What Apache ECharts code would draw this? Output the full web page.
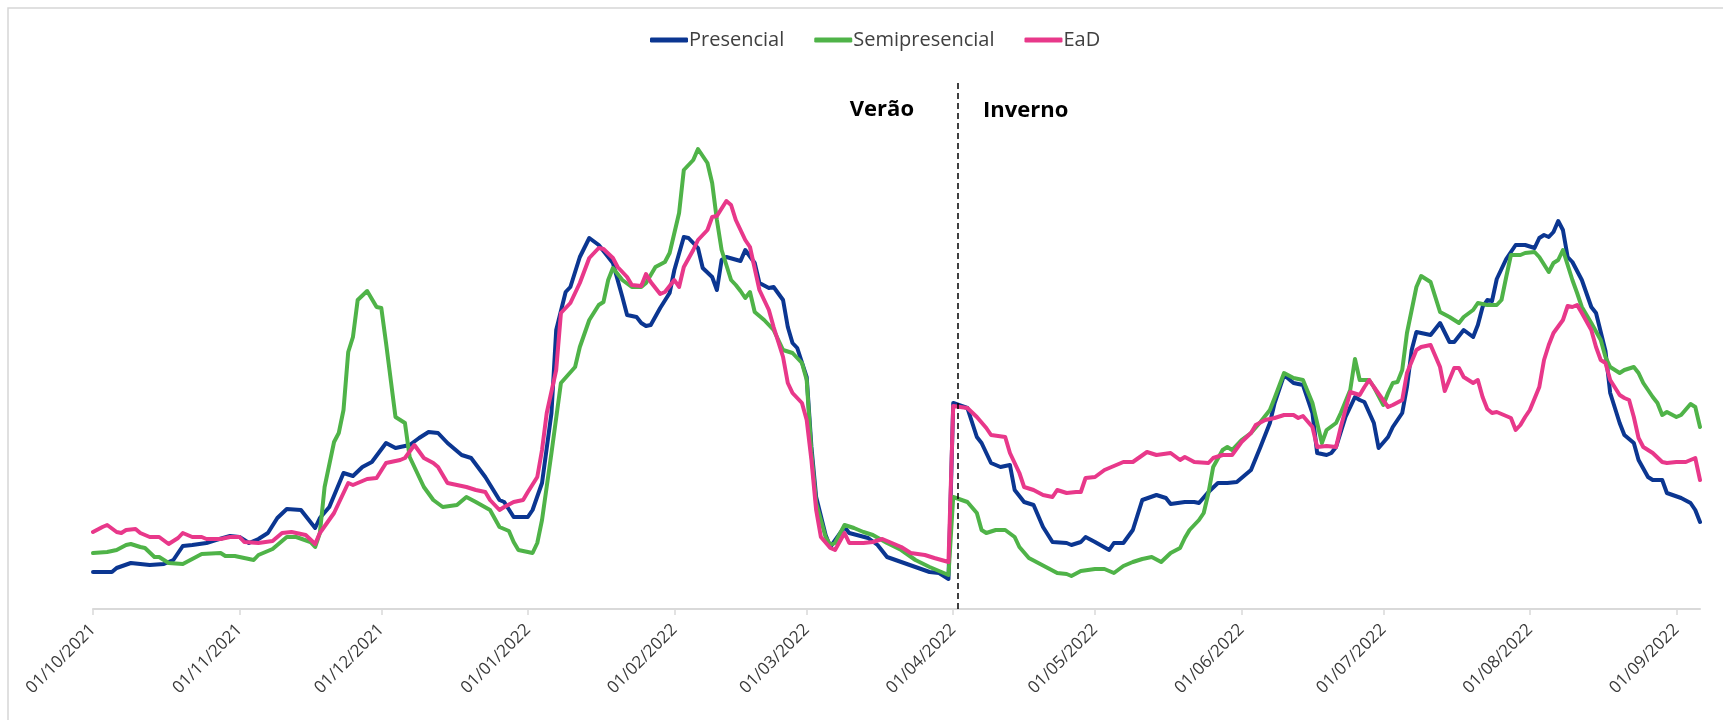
<!DOCTYPE html>
<html>
<head>
<meta charset="utf-8">
<script src="https://cdn.jsdelivr.net/npm/echarts@6/dist/echarts.min.js"></script>
<style>
    html, body { margin: 0; padding: 0; background: #ffffff; }
    #chart { width: 1723px; height: 720px; }
</style>
</head>
<body>
<div id="chart"></div>
<script>
// x = days since 01/10/2021, y = index level
var monthStarts = [0, 31, 61, 92, 123, 151, 182, 212, 243, 273, 304, 335];
var tickLabels = ['01/10/2021', '01/11/2021', '01/12/2021', '01/01/2022', '01/02/2022', '01/03/2022',
    '01/04/2022', '01/05/2022', '01/06/2022', '01/07/2022', '01/08/2022', '01/09/2022'];
var seriesNames = ['Presencial', 'Semipresencial', 'EaD'];
var seasonLabels = ['Verão', 'Inverno'];
var seasonChangeDay = 183;

var presencial = [[0,37],[4,37],[5,41],[8,46],[10,45],[12,44],[15,45],[17,49],[19,63],[21,64],[24,66],[26,69],[29,73],[31,72],[33,66],[35,70],[37,76],[39,91],[41,100],[44,99],[47,81],[48,91],[50,102],[53,136],[55,133],[57,142],[59,147],[62,166],[64,161],[67,164],[69,171],[71,177],[73,176],[75,166],[78,154],[80,151],[83,132],[86,109],[87,107],[89,92],[92,92],[93,99],[95,126],[97,196],[98,279],[100,317],[101,322],[103,352],[105,371],[107,364],[110,346],[112,312],[113,294],[115,292],[116,286],[117,283],[118,284],[120,301],[122,316],[123,339],[125,372],[126,371],[128,361],[129,341],[131,332],[132,319],[133,349],[134,352],[137,348],[138,359],[140,346],[141,326],[143,321],[144,322],[146,309],[147,282],[148,266],[149,261],[151,232],[152,162],[153,112],[155,74],[156,62],[159,82],[160,76],[164,71],[166,64],[168,52],[171,47],[174,42],[177,37],[179,36],[181,30],
    [182,206],[185,201],[187,172],[188,166],[190,146],[192,142],[194,144],[195,119],[197,107],[199,104],[201,82],[203,67],[206,66],[207,64],[209,67],[210,72],[212,67],[215,59],[216,66],[218,66],[220,79],[222,109],[225,114],[227,111],[228,105],[231,107],[233,107],[234,106],[236,117],[238,126],[240,126],[242,127],[245,139],[247,162],[249,186],[250,206],[252,234],[254,226],[256,224],[258,196],[259,156],[261,154],[262,156],[263,162],[265,192],[267,212],[268,209],[269,207],[271,186],[272,161],[274,172],[275,182],[277,196],[278,222],[279,259],[280,277],[283,274],[285,286],[287,267],[288,267],[290,279],[292,272],[293,284],[294,302],[295,309],[296,308],[297,330],[299,350],[300,357],[301,364],[303,364],[305,361],[306,371],[307,374],[308,372],[309,377],[310,388],[311,379],[312,352],[313,347],[315,329],[317,302],[318,296],[320,258],[321,216],[323,186],[324,174],[326,166],[327,149],[329,132],[330,129],[332,129],[333,116],[336,111],[338,106],[339,99],[340,87]];

var semipresencial = [[0,56],[3,57],[5,59],[7,64],[8,65],[10,62],[11,61],[13,52],[14,52],[16,46],[19,45],[21,50],[23,55],[27,56],[28,53],[30,53],[34,49],[35,54],[38,60],[41,72],[43,72],[46,67],[47,62],[48,76],[49,122],[51,167],[52,176],[53,199],[54,257],[55,272],[56,309],[58,318],[60,302],[61,301],[62,266],[64,192],[66,186],[67,152],[70,122],[72,109],[74,102],[77,104],[79,112],[81,107],[84,99],[86,82],[88,78],[89,67],[90,59],[92,57],[93,56],[94,66],[95,89],[97,156],[99,226],[102,242],[103,262],[105,289],[107,304],[108,307],[109,329],[110,341],[112,329],[114,322],[116,322],[117,326],[119,342],[121,347],[122,356],[124,396],[125,439],[127,449],[128,460],[130,446],[131,426],[132,389],[133,359],[135,329],[136,324],[137,318],[138,311],[139,317],[140,297],[142,289],[144,279],[146,259],[148,256],[150,246],[151,229],[152,156],[153,106],[155,72],[156,64],[157,66],[159,84],[161,81],[163,77],[165,74],[168,66],[171,59],[174,49],[177,42],[180,36],[181,34],
    [182,112],[185,107],[187,96],[188,79],[189,76],[191,79],[193,79],[195,72],[196,62],[198,51],[200,46],[202,41],[204,36],[206,35],[207,33],[209,38],[212,40],[214,40],[216,36],[218,43],[220,47],[222,50],[224,52],[226,47],[228,56],[230,61],[231,71],[232,79],[234,89],[235,96],[236,116],[237,142],[239,159],[240,162],[241,159],[243,169],[245,176],[247,187],[249,199],[250,211],[252,236],[254,231],[256,229],[258,206],[260,166],[261,179],[263,186],[264,196],[266,219],[267,250],[268,229],[270,229],[271,222],[273,204],[274,216],[275,226],[276,227],[277,239],[278,276],[280,322],[281,333],[283,327],[284,312],[285,297],[287,292],[289,286],[290,292],[292,299],[293,306],[295,304],[297,304],[298,309],[299,332],[300,354],[302,354],[303,356],[305,357],[306,352],[308,337],[309,346],[310,349],[311,359],[313,329],[314,316],[315,302],[317,286],[319,269],[320,252],[321,242],[323,236],[324,239],[326,242],[327,236],[328,226],[330,212],[331,206],[332,194],[333,197],[335,192],[336,194],[338,205],[339,202],[340,182]];

var ead = [[0,77],[2,82],[3,84],[5,77],[6,76],[7,79],[9,80],[10,76],[12,72],[14,72],[16,65],[18,71],[19,76],[21,72],[23,72],[24,70],[27,70],[29,72],[31,72],[32,67],[35,66],[38,68],[40,76],[42,77],[45,74],[47,65],[48,76],[51,96],[54,126],[55,124],[58,130],[60,131],[62,146],[65,149],[66,151],[68,164],[70,151],[72,146],[73,142],[75,126],[76,125],[79,122],[81,119],[83,117],[84,109],[86,99],[87,102],[89,107],[91,109],[92,117],[94,132],[95,159],[96,196],[98,239],[99,296],[100,301],[101,306],[103,326],[105,351],[107,361],[108,360],[110,351],[111,342],[113,332],[114,324],[116,323],[117,335],[118,327],[120,315],[121,317],[123,329],[124,322],[125,342],[127,359],[128,369],[130,379],[131,392],[132,393],[134,408],[135,404],[136,389],[138,369],[139,362],[141,319],[143,299],[144,282],[146,252],[147,226],[148,216],[150,206],[151,189],[152,149],[153,99],[154,72],[156,61],[157,59],[159,76],[160,66],[163,66],[165,67],[167,70],[169,66],[171,62],[173,56],[176,54],[178,51],[181,47],
    [182,203],[185,201],[187,192],[189,181],[190,174],[193,172],[194,156],[196,136],[197,122],[199,119],[201,114],[203,112],[204,119],[206,116],[208,117],[209,117],[210,131],[212,132],[214,139],[216,143],[218,147],[220,147],[223,157],[225,154],[228,156],[230,149],[231,152],[233,147],[236,146],[237,151],[239,154],[241,154],[243,167],[245,176],[246,184],[248,189],[250,191],[252,194],[254,194],[255,191],[256,193],[258,182],[259,162],[261,163],[263,162],[264,182],[266,217],[268,214],[269,222],[270,229],[271,222],[274,202],[275,204],[277,209],[278,236],[280,259],[281,262],[283,264],[285,242],[286,218],[288,241],[289,241],[290,232],[292,226],[293,229],[294,212],[295,200],[296,196],[297,197],[299,193],[300,191],[301,179],[302,184],[303,192],[304,199],[306,222],[307,249],[308,264],[309,276],[311,289],[312,303],[313,302],[314,304],[315,296],[317,279],[318,262],[319,249],[320,246],[321,229],[323,214],[324,211],[325,209],[326,192],[327,171],[328,162],[330,156],[332,147],[333,146],[335,147],[337,147],[339,151],[340,129]];

var colors = ['#0b3691', '#4fb348', '#e8388a'];
var font = '"Open Sans", Lato, sans-serif';

function make_series(name, data, color) {
    return {
        name: name,
        type: 'line',
        data: data,
        showSymbol: false,
        symbol: 'none',
        animation: false,
        lineStyle: { color: color, width: 4, cap: 'round', join: 'round' },
        itemStyle: { color: color }
    };
}

var chart = echarts.init(document.getElementById('chart'));

var series = [
    make_series(seriesNames[0], presencial, colors[0]),
    make_series(seriesNames[1], semipresencial, colors[1]),
    make_series(seriesNames[2], ead, colors[2])
];

// dashed separator between the two seasons
series[2].markLine = {
    silent: true,
    symbol: 'none',
    animation: false,
    label: { show: false },
    lineStyle: { color: '#000000', width: 1.5, type: [6, 4] },
    data: [{ xAxis: seasonChangeDay }]
};

var option = {
    backgroundColor: '#ffffff',
    animation: false,
    legend: {
        data: seriesNames,
        left: 645,
        top: 25,
        icon: 'roundRect',
        itemWidth: 38,
        itemHeight: 5,
        itemGap: 30,
        textStyle: { color: '#404040', fontSize: 20, fontFamily: font, padding: [0, 0, 0, -4] }
    },
    grid: { left: 93, right: 23, top: 82, bottom: 111, containLabel: false, outerBoundsMode: 'none' },
    xAxis: {
        type: 'value',
        min: 0,
        max: 340,
        splitLine: { show: false },
        axisLine: { show: true, lineStyle: { color: '#d9d9d9', width: 2 } },
        axisTick: { show: true, length: 6, lineStyle: { color: '#d9d9d9', width: 1.5 }, customValues: monthStarts },
        axisLabel: {
            customValues: monthStarts,
            rotate: 45,
            margin: 18,
            color: '#3a3a3a',
            fontSize: 17,
            fontFamily: font,
            formatter: function (v) {
                var i = monthStarts.indexOf(v);
                return i >= 0 ? tickLabels[i] : '';
            }
        }
    },
    yAxis: {
        type: 'value',
        min: 0,
        max: 527,
        show: false,
        splitLine: { show: false }
    },
    graphic: [
        {
            type: 'rect',
            silent: true,
            shape: { x: 8, y: 8, width: 1740, height: 740 },
            style: { fill: 'none', stroke: '#d6d6d6', lineWidth: 1.5 }
        },
        {
            type: 'text',
            x: 914,
            y: 110,
            style: { text: seasonLabels[0], fill: '#000000', font: 'bold 22px ' + font, textAlign: 'right', textVerticalAlign: 'middle' }
        },
        {
            type: 'text',
            x: 983,
            y: 111,
            style: { text: seasonLabels[1], fill: '#000000', font: 'bold 22px ' + font, textAlign: 'left', textVerticalAlign: 'middle' }
        }
    ],
    series: series
};

chart.setOption(option);
</script>
</body>
</html>
